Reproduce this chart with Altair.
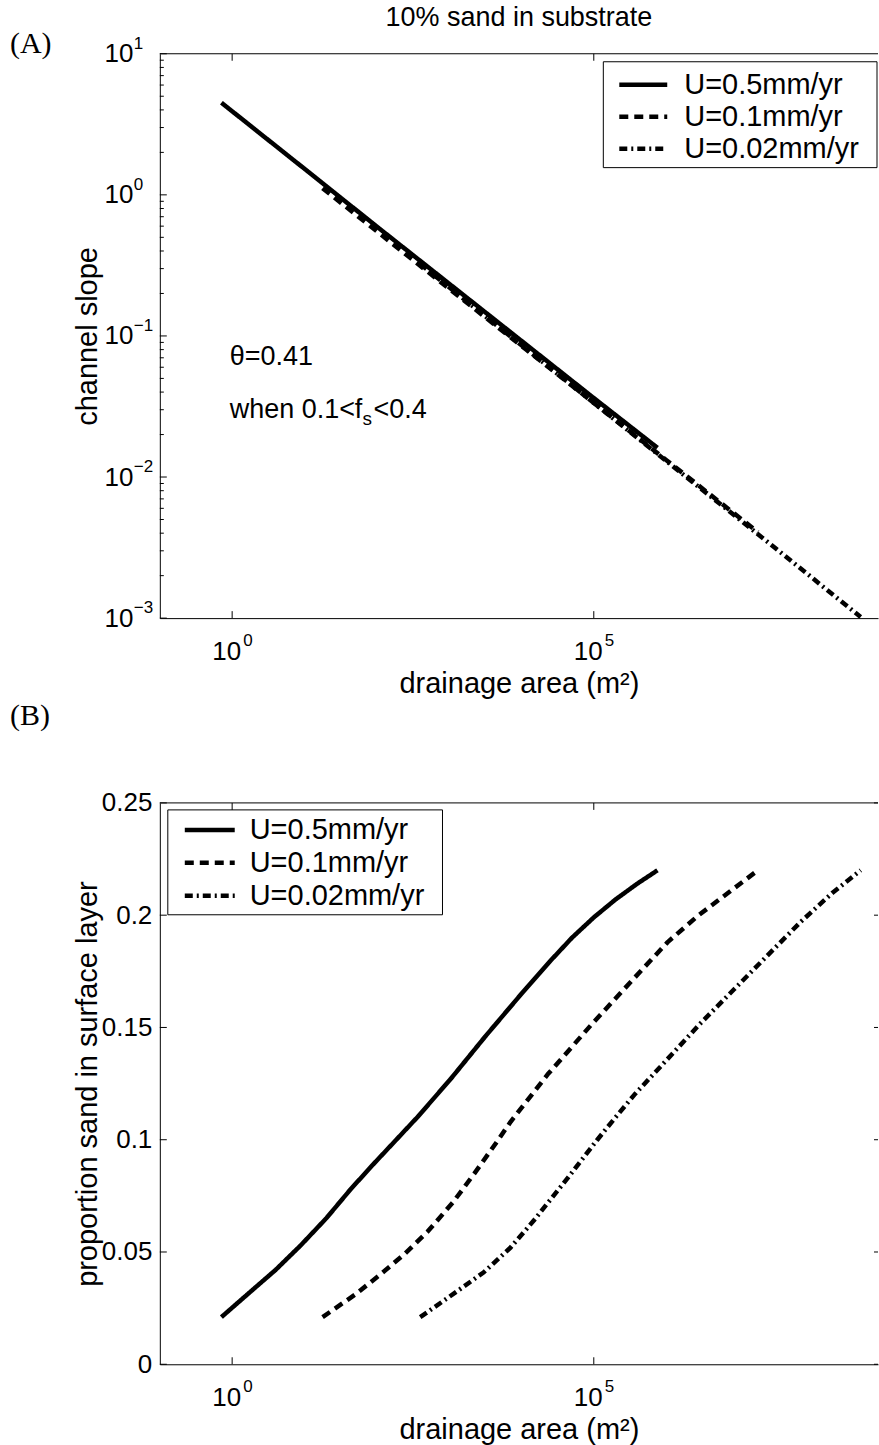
import altair as alt
import pandas as pd

FONT = "Liberation Sans"
SERIF = "Liberation Serif"

# uplift-rate runs and their line styles
RUNS = ["U=0.5mm/yr", "U=0.1mm/yr", "U=0.02mm/yr"]
DASHES = [[1, 0], [9, 6], [8, 4, 2, 4]]

# (A) channel slope against drainage area
area_a_05 = [0.71, 10, 100, 1050, 1.0e4, 1.0e5, 7.6e5]
slope_a_05 = [4.50, 1.53, 0.596, 0.230, 0.0923, 0.0363, 0.0161]
area_a_01 = [17.8, 100, 1000, 1.0e4, 1.0e5, 1.0e6, 1.86e7]
slope_a_01 = [1.114, 0.552, 0.216, 0.0851, 0.0335, 0.0132, 0.00407]
area_a_002 = [398, 3162, 31620, 3.16e5, 3.16e6, 3.16e7, 4.9e8]
slope_a_002 = [0.324, 0.138, 0.0537, 0.0209, 0.00813, 0.00316, 0.00102]

# (B) proportion of sand in the surface layer against drainage area
area_b_05 = [0.71, 1.82, 3.98, 8.9, 20, 43.6, 89, 186, 363, 1047, 3162, 1.0e4,
             2.57e4, 5.01e4, 1.0e5, 2.0e5, 3.98e5, 7.6e5]
sand_b_05 = [0.021, 0.0325, 0.042, 0.053, 0.065, 0.078, 0.089, 0.100, 0.110, 0.127, 0.146, 0.165,
             0.180, 0.190, 0.199, 0.207, 0.214, 0.220]
area_b_01 = [17.8, 50, 112, 240, 501, 1122, 2239, 4790, 7080, 2.29e4, 9.12e4, 3.63e5,
             1.05e6, 2.82e6, 7.94e6, 1.86e7]
sand_b_01 = [0.021, 0.031, 0.040, 0.049, 0.059, 0.072, 0.085, 0.100, 0.108, 0.129, 0.151, 0.172,
             0.188, 0.200, 0.211, 0.220]
area_b_002 = [398, 1000, 3020, 7080, 1.48e4, 4.37e4, 1.12e5, 2.0e5, 3.63e5, 1.05e6, 3.02e6, 8.71e6,
              2.51e7, 7.24e7, 2.0e8, 4.9e8]
sand_b_002 = [0.021, 0.030, 0.041, 0.052, 0.064, 0.083, 0.100, 0.110, 0.120, 0.136, 0.152, 0.167,
              0.182, 0.197, 0.210, 0.220]

# axis ticks and their labels (powers of ten: base plus raised exponent)
POW_BASE = "10"
X_TICKS = [1, 1e5]
X_TICK_EXP = ["0", "5"]
YA_TICKS = [1e-3, 1e-2, 1e-1, 1, 10]
YA_TICK_EXP = ["−3", "−2", "−1", "0", "1"]
YA_MINOR = [m * d for d in [1e-3, 1e-2, 1e-1, 1] for m in range(2, 10)]
YB_TICKS = [0, 0.05, 0.1, 0.15, 0.2, 0.25]
YB_TICK_LABELS = ["0", "0.05", "0.1", "0.15", "0.2", "0.25"]

W = 719      # plot width (px)
HA = 565     # panel A plot height
HB = 562     # panel B plot height
LW = 4.5     # curve line width
TICK_FS = 26
EXP_FS = 17

x_scale = alt.Scale(type="log", domain=[0.1, 8.5e8], nice=False)
ya_scale = alt.Scale(type="log", domain=[1e-3, 10], nice=False)
yb_scale = alt.Scale(domain=[0, 0.25], nice=False, zero=False)
dash_scale = alt.Scale(domain=RUNS, range=DASHES)

dummy = pd.DataFrame({"k": [0]})


def long_frame(series):
    rows = []
    for run, xs, ys in series:
        for x, y in zip(xs, ys):
            rows.append({"run": run, "area": x, "value": y})
    return pd.DataFrame(rows)


def label_expr(values, labels):
    vals = ",".join(repr(float(v)) for v in values)
    labs = ",".join("'" + s + "'" for s in labels)
    return f"[{labs}][indexof([{vals}], datum.value)]"


X_AXIS = alt.Axis(
    orient="bottom", values=X_TICKS, labelExpr=f"'{POW_BASE}'",
    ticks=False, tickSize=0, domain=True, domainColor="black", domainWidth=1, grid=False,
    labelFont=FONT, labelFontSize=TICK_FS, labelColor="black", labelPadding=41,
    labelBaseline="alphabetic", labelAlign="center", labelOffset=-6,
    labelFlush=False, labelOverlap=False, labelBound=False,
    title="drainage area (m²)", titleFont=FONT, titleFontSize=29, titleFontWeight="normal",
    titleColor="black", titleX=W / 2, titleY=74, titleBaseline="alphabetic", titleAlign="center",
)


def y_axis(values, label_ex, pad, title, h):
    return alt.Axis(
        orient="left", values=values, labelExpr=label_ex,
        ticks=False, tickSize=0, domain=True, domainColor="black", domainWidth=1, grid=False,
        labelFont=FONT, labelFontSize=TICK_FS, labelColor="black", labelPadding=pad,
        labelBaseline="middle", labelAlign="right", labelFlush=False, labelOverlap=False,
        labelBound=False,
        title=title, titleFont=FONT, titleFontSize=29, titleFontWeight="normal", titleColor="black",
        titleAngle=270, titleX=-72, titleY=h / 2, titleBaseline="middle", titleAlign="center",
    )


YA_AXIS = y_axis(YA_TICKS, f"'{POW_BASE}'", 27, "channel slope", HA)
YB_AXIS = y_axis(YB_TICKS, label_expr(YB_TICKS, YB_TICK_LABELS), 8,
                 "proportion sand in surface layer", HB)


def curves(df, y_scale, y_ax):
    return alt.Chart(df).mark_line(
        color="black", strokeWidth=LW, strokeCap="butt", strokeJoin="round"
    ).encode(
        x=alt.X("area:Q", scale=x_scale, axis=X_AXIS),
        y=alt.Y("value:Q", scale=y_scale, axis=y_ax),
        strokeDash=alt.StrokeDash("run:N", scale=dash_scale, legend=None),
    )


def y_ticks(values, y_scale, y_ax, x0, x1):
    # short inward tick marks along a vertical edge
    return alt.Chart(pd.DataFrame({"v": values})).mark_rule(color="black", strokeWidth=1).encode(
        y=alt.Y("v:Q", scale=y_scale, axis=y_ax), x=alt.value(x0), x2=alt.value(x1)
    )


def x_ticks(values, y0, y1):
    # short inward tick marks along a horizontal edge
    return alt.Chart(pd.DataFrame({"v": values})).mark_rule(color="black", strokeWidth=1).encode(
        x=alt.X("v:Q", scale=x_scale, axis=X_AXIS), y=alt.value(y0), y2=alt.value(y1)
    )


def x_exponents(h):
    # raised exponents of the power-of-ten labels under the x axis
    return alt.Chart(pd.DataFrame({"v": X_TICKS, "e": X_TICK_EXP})).mark_text(
        font=FONT, fontSize=EXP_FS, align="left", baseline="middle", color="black", dx=11
    ).encode(
        x=alt.X("v:Q", scale=x_scale, axis=X_AXIS), y=alt.value(h + 23), text="e:N"
    )


def y_exponents():
    # raised exponents of the power-of-ten labels beside the y axis
    return alt.Chart(pd.DataFrame({"v": YA_TICKS, "e": YA_TICK_EXP})).mark_text(
        font=FONT, fontSize=EXP_FS, align="left", baseline="middle", color="black", dy=-10
    ).encode(
        y=alt.Y("v:Q", scale=ya_scale, axis=YA_AXIS), x=alt.value(-26), text="e:N"
    )


def top_border():
    return alt.Chart(dummy).mark_rule(color="black", strokeWidth=1).encode(
        x=alt.value(0), x2=alt.value(W), y=alt.value(0)
    )


def legend(box, rows, line_x, text_x):
    x0, x1, y0, y1 = box
    layers = [
        alt.Chart(dummy).mark_rect(fill="white", stroke="black", strokeWidth=1).encode(
            x=alt.value(x0), x2=alt.value(x1), y=alt.value(y0), y2=alt.value(y1)
        )
    ]
    for run, dash, yr in zip(RUNS, DASHES, rows):
        layers.append(
            alt.Chart(dummy).mark_rule(color="black", strokeWidth=LW, strokeDash=dash).encode(
                x=alt.value(line_x[0]), x2=alt.value(line_x[1]), y=alt.value(yr)
            )
        )
        layers.append(
            alt.Chart(dummy).mark_text(
                text=run, font=FONT, fontSize=29, align="left", baseline="middle", color="black"
            ).encode(x=alt.value(text_x), y=alt.value(yr))
        )
    return layers


def text(label, x, y, size=27, font=FONT, align="left"):
    return alt.Chart(dummy).mark_text(
        text=label, font=font, fontSize=size, align=align, baseline="middle", color="black"
    ).encode(x=alt.value(x), y=alt.value(y))


df_a = long_frame([
    (RUNS[0], area_a_05, slope_a_05),
    (RUNS[1], area_a_01, slope_a_01),
    (RUNS[2], area_a_002, slope_a_002),
])
df_b = long_frame([
    (RUNS[0], area_b_05, sand_b_05),
    (RUNS[1], area_b_01, sand_b_01),
    (RUNS[2], area_b_002, sand_b_002),
])

panel_a = alt.layer(
    curves(df_a, ya_scale, YA_AXIS),
    top_border(),
    y_ticks(YA_TICKS, ya_scale, YA_AXIS, 0, 7),
    y_ticks(YA_MINOR, ya_scale, YA_AXIS, 0, 4),
    x_ticks(X_TICKS, HA, HA - 7),
    x_ticks(X_TICKS, 0, 7),
    x_exponents(HA),
    y_exponents(),
    *legend((444, 718, 8, 114), (31, 63, 95), (460, 508), 525),
    text("θ=0.41", 70, 304),
    text("when 0.1<f", 70, 357),
    text("s", 70 + 133, 366, size=19),
    text("<0.4", 70 + 144, 357),
    text("(A)", -150, -10, size=30, font=SERIF),
    text("10% sand in substrate", W / 2, -36, size=27, align="center"),
).properties(width=W, height=HA)

panel_b = alt.layer(
    curves(df_b, yb_scale, YB_AXIS),
    top_border(),
    y_ticks(YB_TICKS, yb_scale, YB_AXIS, 0, 7),
    y_ticks(YB_TICKS, yb_scale, YB_AXIS, W - 4, W),
    x_ticks(X_TICKS, HB, HB - 7),
    x_ticks(X_TICKS, 0, 7),
    x_exponents(HB),
    *legend((8, 283, 7, 112), (27, 60, 93), (25, 75), 90),
    text("(B)", -150, -87, size=30, font=SERIF),
).properties(width=W, height=HB)

chart = alt.vconcat(panel_a, panel_b, spacing=3).resolve_scale(
    x="independent", y="independent", strokeDash="independent"
).properties(
    padding={"left": 10, "top": 3, "right": 0, "bottom": 0},
    background="white",
).configure_view(stroke=None)

chart.save("out.html", embed_options={"renderer": "svg", "actions": False})
